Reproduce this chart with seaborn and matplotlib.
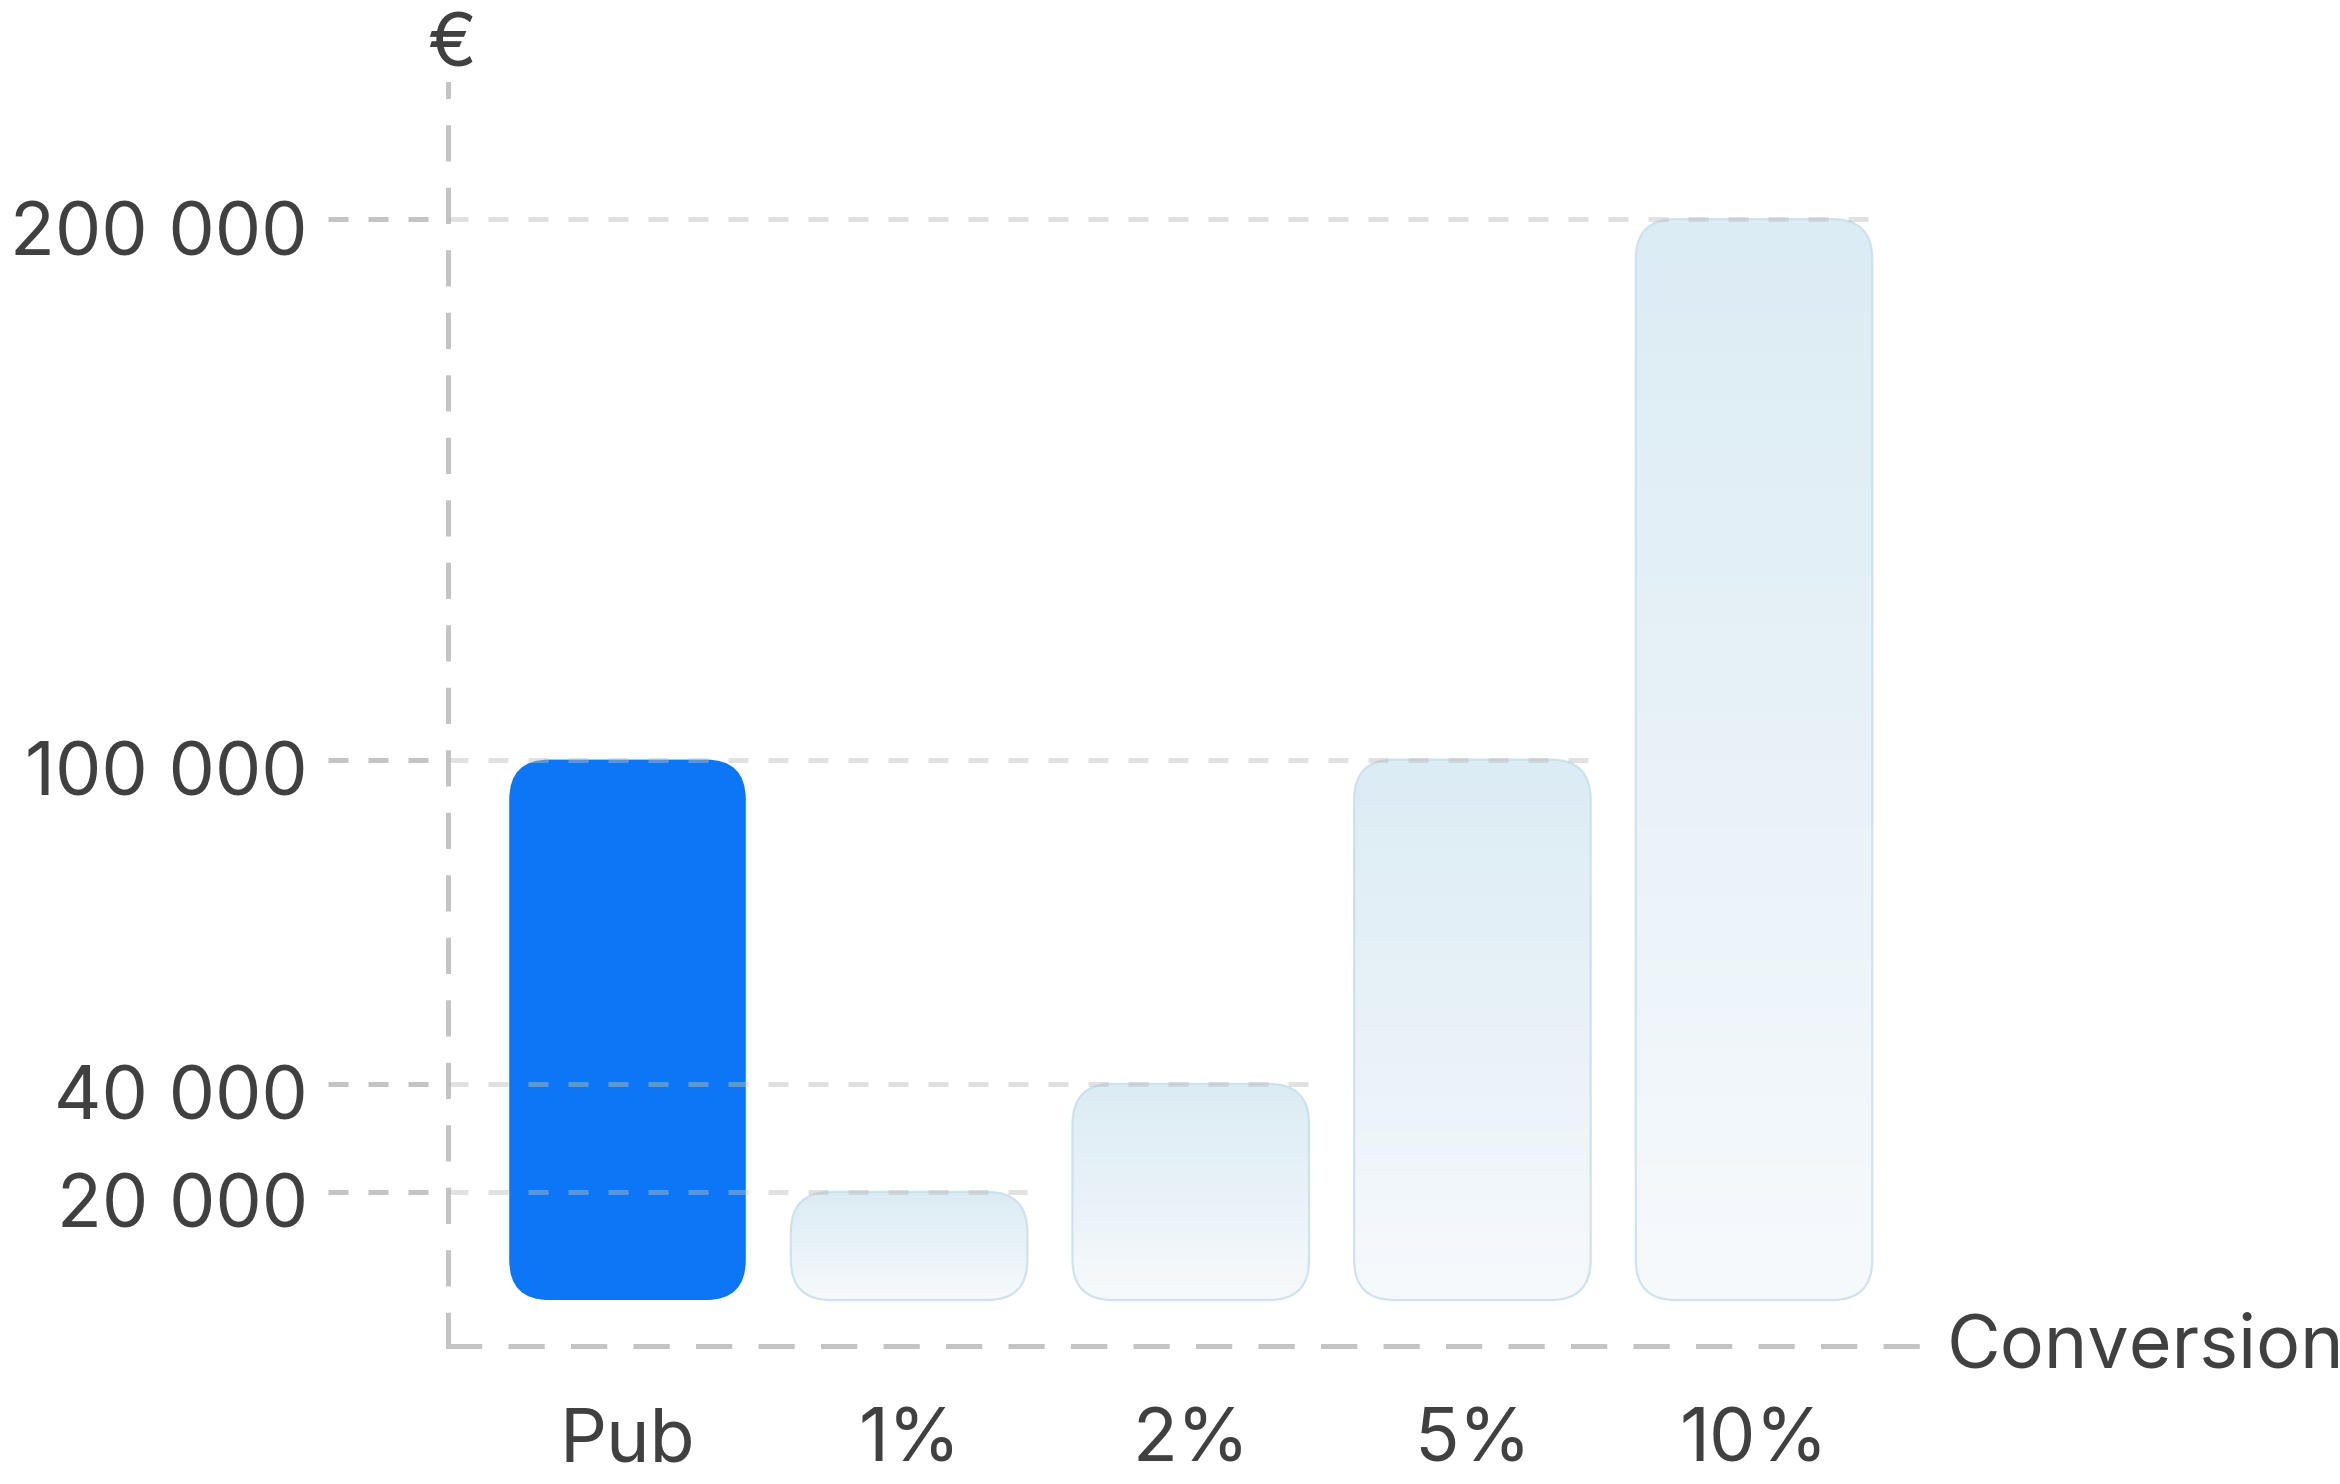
import numpy as np
import pandas as pd
import matplotlib
matplotlib.use('Agg')
import matplotlib.pyplot as plt
import matplotlib.transforms as mtransforms
import seaborn as sns
from matplotlib.patches import FancyBboxPatch
from matplotlib.colors import LinearSegmentedColormap

# données
categories = ['Pub', '1%', '2%', '5%', '10%']
valeurs = [100000, 20000, 40000, 100000, 200000]
graduations = [20000, 40000, 100000, 200000]
etiquettes = ['20 000', '40 000', '100 000', '200 000']

df = pd.DataFrame({'Conversion': categories, 'Montant': valeurs})

sns.set_theme(style='white')
plt.rcParams['font.family'] = ['Inter', 'DejaVu Sans']
plt.rcParams['lines.scale_dashes'] = False

gris_texte = '#404040'
gris_axe = '#C4C4C4'
bleu = '#0D76F7'
largeur = 0.84
taille = 53
xlim = (-0.637, 4.6)
ylim = (-8500, 225000)

fig = plt.figure(figsize=(23.4, 14.84), dpi=100)
ax = fig.add_axes([0.1915, 0.093, 0.6303, 0.8504])

sns.barplot(data=df, x='Conversion', y='Montant', order=categories,
            width=largeur, color=bleu, ax=ax)
ax.set_xlim(*xlim)
ax.set_ylim(*ylim)

# barres arrondies
px_x = ax.bbox.width / (xlim[1] - xlim[0])
px_y = ax.bbox.height / (ylim[1] - ylim[0])
rx = 40 / px_x
ry = 40 / px_y
degrade = LinearSegmentedColormap.from_list('degrade', ['#F7FAFD', '#E8F2F8', '#DCECF4'])
grad = np.linspace(0, 1, 256).reshape(-1, 1)

for i, p in enumerate(list(ax.patches)):
    x0, w, h = p.get_x(), p.get_width(), p.get_height()
    p.remove()
    if i == 0:
        barre = FancyBboxPatch((x0, 0), w, h, boxstyle=f'round,pad=0,rounding_size={rx}',
                               mutation_aspect=ry / rx, facecolor=bleu, edgecolor='none', zorder=2)
        ax.add_patch(barre)
    else:
        barre = FancyBboxPatch((x0, 0), w, h, boxstyle=f'round,pad=0,rounding_size={rx}',
                               mutation_aspect=ry / rx, facecolor='none',
                               edgecolor='#C6DDE9', linewidth=1.6, alpha=0.8, zorder=3)
        ax.add_patch(barre)
        img = ax.imshow(grad, extent=[x0, x0 + w, 0, h], aspect='auto', cmap=degrade,
                        origin='lower', zorder=2)
        img.set_clip_path(barre)

# lignes de repère
x_gauche = -1.063
for t in graduations:
    idx = max(i for i, v in enumerate(valeurs) if v == t)
    x_fin = idx + largeur / 2
    ax.hlines(t, xlim[0], x_fin, colors='#BDBDBD', alpha=0.45, linewidth=3.6,
              linestyles=[(0, (14.4, 14.4))], zorder=4, clip_on=False)
    ax.hlines(t, x_gauche, xlim[0], colors=gris_axe, linewidth=3.6,
              linestyles=[(0, (14.4, 14.4))], zorder=4, clip_on=False)

ax.set_xlim(*xlim)
ax.set_ylim(*ylim)

for s in ['top', 'right']:
    ax.spines[s].set_visible(False)
for s in ['left', 'bottom']:
    ax.spines[s].set_color(gris_axe)
    ax.spines[s].set_linewidth(3.6)
    ax.spines[s].set_linestyle((0, (22.5, 22.5)))

ax.set_yticks(graduations, etiquettes)
ax.tick_params(axis='y', length=0, pad=101, labelsize=taille, labelcolor=gris_texte)
ax.tick_params(axis='x', length=0, pad=44, labelsize=taille, labelcolor=gris_texte)
ax.set_xlabel('')
ax.set_ylabel('')

decalage = mtransforms.ScaledTranslation(0, -0.09, fig.dpi_scale_trans)
for lab in ax.get_yticklabels():
    lab.set_transform(lab.get_transform() + decalage)

fig.text(0.832, 0.0782, 'Conversion', ha='left', va='baseline', fontsize=taille, color=gris_texte)
fig.text(0.1932, 0.9549, '€', ha='center', va='baseline', fontsize=taille, color=gris_texte)

fig.savefig('out.png', dpi=100, facecolor='white')
